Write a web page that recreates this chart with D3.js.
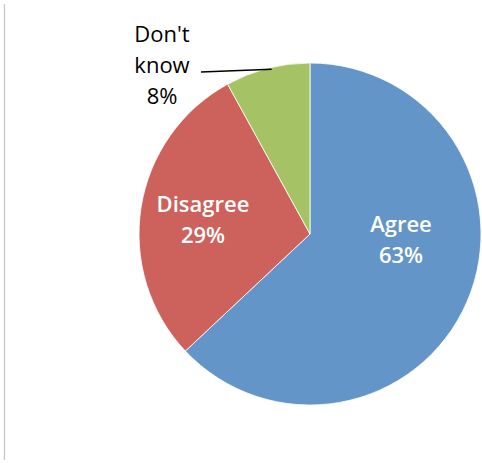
<!DOCTYPE html>
<html>
<head>
<meta charset="utf-8">
<script src="https://d3js.org/d3.v7.min.js"></script>
<style>
  body { margin: 0; background: #fff; }
  text { font-family: 'Open Sans', Lato, sans-serif; }
</style>
</head>
<body>
<script>
var categories = ["Agree", "Disagree", "Don't know"];
var values = [63, 29, 8];
var colours = ["#6395c9", "#cd615b", "#a5c364"];

var W = 482, H = 463,
    cx = 310, cy = 234,
    r = 171,
    fs = 22;

var svg = d3.select("body").append("svg")
  .attr("width", W)
  .attr("height", H);

// thin frame edge on the left
svg.append("line")
  .attr("x1", 4.5).attr("x2", 4.5)
  .attr("y1", 4).attr("y2", 460)
  .attr("stroke", "#c4c4c4")
  .attr("stroke-width", 1.2);

var pie = d3.pie().sort(null).value(function(d){ return d; });
var arc = d3.arc().innerRadius(0).outerRadius(r);
var arcs = pie(values);

var g = svg.append("g")
  .attr("transform", "translate(" + cx + "," + cy + ")");

g.selectAll("path")
  .data(arcs)
  .enter().append("path")
    .attr("d", arc)
    .attr("fill", function(d,i){ return colours[i]; })
    .attr("stroke", "#fff")
    .attr("stroke-width", 0.8);

// inside labels (Agree, Disagree)
var inside = [
  {i: 0, x: 91, y: -2},
  {i: 1, x: -107, y: -22}
];
inside.forEach(function(p){
  var t = g.append("text")
    .attr("text-anchor", "middle")
    .attr("fill", "#fff")
    .attr("font-weight", 600)
    .attr("font-size", fs);
  t.append("tspan").attr("x", p.x).attr("y", p.y).text(categories[p.i]);
  t.append("tspan").attr("x", p.x).attr("y", p.y + 31).text(values[p.i] + "%");
});

// outside label for Don't know, with leader line
var dk = arcs[2];
var ang = dk.startAngle + (dk.endAngle - dk.startAngle) * 0.55;
var ex = Math.sin(ang) * r, ey = -Math.cos(ang) * r;
g.append("line")
  .attr("x1", -109).attr("y1", -162)
  .attr("x2", ex).attr("y2", ey + 2)
  .attr("stroke", "#000")
  .attr("stroke-width", 1.5);

var t = g.append("text")
  .attr("text-anchor", "middle")
  .attr("fill", "#000")
  .attr("font-size", fs);
var words = categories[2].split(" ");
t.append("tspan").attr("x", -148).attr("y", -192).text(words[0]);
t.append("tspan").attr("x", -148).attr("y", -161).text(words[1]);
t.append("tspan").attr("x", -148).attr("y", -130).text(values[2] + "%");
</script>
</body>
</html>
